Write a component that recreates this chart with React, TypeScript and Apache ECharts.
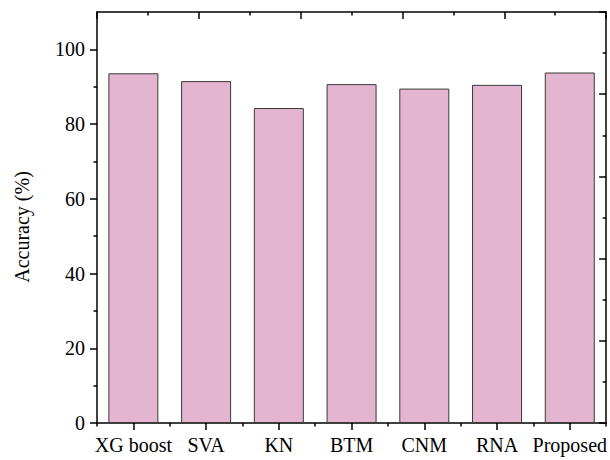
import React, { useEffect, useRef } from "react";
import * as echarts from "echarts";

// Methods compared and their classification accuracy (%)
const categories = ["XG boost", "SVA", "KN", "BTM", "CNM", "RNA", "Proposed"];
const accuracy = [93.6, 91.5, 84.3, 90.7, 89.5, 90.5, 93.8];

// Left axis ticks
const yMajorTicks = [0, 20, 40, 60, 80, 100];
const yMinorTicks = [10, 30, 50, 70, 90];

const FONT = "'Liberation Serif', 'Times New Roman', serif";
const AXIS_COLOR = "#000";
const MAJOR = 7;
const MINOR = 3.5;

// Each category occupies one unit on the bottom axis; bars sit at its centre.
const slotCentres = categories.map((_, i) => i + 0.5);
const barData = accuracy.map((v, i) => [slotCentres[i], v]);

export default function App() {
  const ref = useRef<HTMLDivElement>(null);

  useEffect(() => {
    if (!ref.current) return;
    const chart = echarts.init(ref.current, undefined, { renderer: "svg" });

    const lineStyle = { color: AXIS_COLOR, width: 1.5 };

    chart.setOption({
      animation: false,
      backgroundColor: "#fff",
      grid: {
        left: 97,
        right: 3,
        top: 12,
        bottom: 37,
      },
      xAxis: [
        {
          // bottom axis: short ticks between methods, long ticks under bars
          type: "value",
          position: "bottom",
          min: 0,
          max: categories.length,
          interval: 1,
          axisLine: { show: true, onZero: false, lineStyle },
          axisTick: { show: true, length: MINOR, lineStyle },
          minorTick: { show: true, splitNumber: 2, length: MAJOR, lineStyle },
          axisLabel: {
            customValues: slotCentres,
            formatter: (v: number) => categories[Math.floor(v)] ?? "",
            color: "#000",
            fontFamily: FONT,
            fontSize: 20,
            margin: 12,
          },
          splitLine: { show: false },
          minorSplitLine: { show: false },
        },
        {
          // top frame with inward ticks
          type: "value",
          position: "top",
          min: 0,
          max: 10,
          interval: 2,
          axisLine: { show: true, onZero: false, lineStyle },
          axisTick: { show: true, inside: true, length: MAJOR, lineStyle },
          minorTick: { show: true, splitNumber: 2, length: MINOR, lineStyle },
          axisLabel: { show: false },
          splitLine: { show: false },
          minorSplitLine: { show: false },
        },
      ],
      yAxis: [
        {
          type: "value",
          position: "left",
          min: 0,
          max: 110,
          interval: 20,
          axisLine: { show: true, onZero: false, lineStyle },
          axisTick: {
            show: true,
            length: MAJOR,
            lineStyle,
            customValues: yMajorTicks,
          },
          axisLabel: {
            color: "#000",
            fontFamily: FONT,
            fontSize: 20,
            margin: 12,
            customValues: yMajorTicks,
          },
          splitLine: { show: false },
        },
        {
          // short ticks between the labelled ones
          type: "value",
          position: "left",
          min: 0,
          max: 110,
          interval: 10,
          axisLine: { show: false, onZero: false },
          axisTick: {
            show: true,
            length: MINOR,
            lineStyle,
            customValues: yMinorTicks,
          },
          axisLabel: { show: false, customValues: yMinorTicks },
          splitLine: { show: false },
        },
        {
          // right frame with inward ticks
          type: "value",
          position: "right",
          min: 0,
          max: 10,
          interval: 2,
          axisLine: { show: true, onZero: false, lineStyle },
          axisTick: { show: true, inside: true, length: MAJOR, lineStyle },
          minorTick: { show: true, splitNumber: 2, length: MINOR, lineStyle },
          axisLabel: { show: false },
          splitLine: { show: false },
          minorSplitLine: { show: false },
        },
      ],
      series: [
        {
          type: "bar",
          xAxisIndex: 0,
          yAxisIndex: 0,
          data: barData,
          barWidth: 50,
          itemStyle: {
            color: "#E3B5CF",
            borderColor: "#3a3a3a",
            borderWidth: 1,
          },
          z: 1,
        },
      ],
      graphic: [
        {
          type: "text",
          x: 22,
          y: 227,
          rotation: Math.PI / 2,
          style: {
            text: "Accuracy (%)",
            fill: "#000",
            font: `20px ${FONT}`,
            align: "center",
            verticalAlign: "middle",
          },
        },
      ],
    });

    return () => chart.dispose();
  }, []);

  return (
    <div
      ref={ref}
      style={{ position: "absolute", left: 0, top: 0, width: 610, height: 460 }}
    />
  );
}
